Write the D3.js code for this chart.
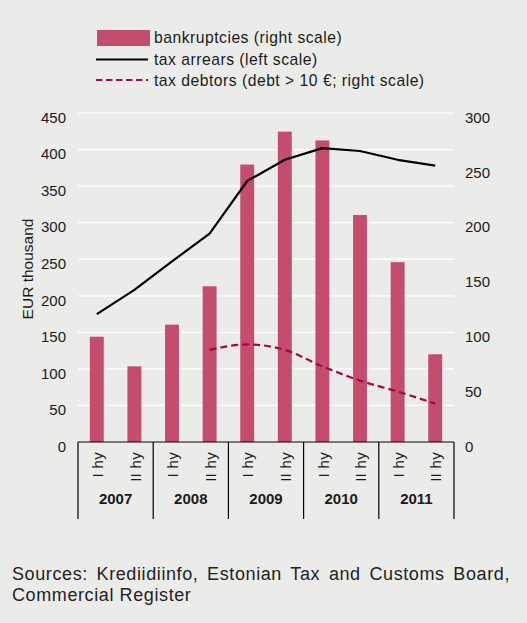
<!DOCTYPE html>
<html><head><meta charset="utf-8">
<script src="https://cdnjs.cloudflare.com/ajax/libs/d3/7.8.5/d3.min.js"></script>
<style>
html,body{margin:0;padding:0;background:#EBECEA;}
svg{display:block;font-family:"Liberation Sans",Arial,Helvetica,sans-serif;}
</style></head><body>
<svg id="c" width="527" height="623"></svg>
<script>
const years = ["2007","2008","2009","2010","2011"];
const halves = ["I hy","II hy"];
const periods = ["2007 I","2007 II","2008 I","2008 II","2009 I","2009 II","2010 I","2010 II","2011 I","2011 II"];
const bankruptcies = [96, 69, 107, 142, 253, 283, 275, 207, 164, 80];
const taxArrears = [175, 208, 247, 285, 357, 386, 402, 398, 386, 378];
const taxDebtors = [null, null, null, 84, 89, 84, 69, 56, 46, 35];
const leftTicks = [0,50,100,150,200,250,300,350,400,450];
const rightTicks = [0,50,100,150,200,250,300];
const legendLabels = ["bankruptcies (right scale)","tax arrears (left scale)","tax debtors (debt > 10 €; right scale)"];
const yLabel = "EUR thousand";
const sourceLines = ["Sources: Krediidiinfo, Estonian Tax and Customs Board,","Commercial Register"];

const svg = d3.select("#c");
const L = 78, R = 454, T = 113, B = 442;
const x = d3.scaleBand().domain(periods).range([L,R]).paddingInner(0.63).paddingOuter(0.315);
const xb = d3.scaleBand().domain(periods).range([L,R]);
const yL = d3.scaleLinear().domain([0,450]).range([B,T]);
const yR = d3.scaleLinear().domain([0,300]).range([B,T]);
const txt = "#1a1a1a";

// gridlines
svg.append("g").selectAll("line").data(leftTicks.slice(1)).join("line")
  .attr("x1",L).attr("x2",R).attr("y1",d=>yL(d)).attr("y2",d=>yL(d))
  .attr("stroke","#fff").attr("stroke-width",1.2);

// left ticks
svg.append("g").selectAll("text").data(leftTicks).join("text")
  .attr("x",66).attr("y",d=>yL(d)+4.5).attr("dy","0.35em").attr("text-anchor","end")
  .attr("font-size",15).attr("fill",txt).text(d=>d);
// right ticks
svg.append("g").selectAll("text").data(rightTicks).join("text")
  .attr("x",465).attr("y",d=>yR(d)+4.5).attr("dy","0.35em").attr("text-anchor","start")
  .attr("font-size",15).attr("fill",txt).text(d=>d);

svg.append("text").attr("transform","translate(28,269) rotate(-90)")
  .attr("text-anchor","middle").attr("dy","0.35em").attr("font-size",15.5).attr("fill",txt).text(yLabel);

// bars
svg.append("g").selectAll("rect").data(periods).join("rect")
  .attr("x",d=>x(d)).attr("width",x.bandwidth())
  .attr("y",(d,i)=>yR(bankruptcies[i])).attr("height",(d,i)=>B-yR(bankruptcies[i]))
  .attr("fill","#C44D6E");

// tax arrears
const cx = d=>xb(d)+xb.bandwidth()/2;
svg.append("path").datum(periods.map((p,i)=>[cx(p),yL(taxArrears[i])]))
  .attr("d",d3.line()).attr("fill","none").attr("stroke","#000").attr("stroke-width",2.2)
  .attr("stroke-linejoin","round");
// tax debtors
svg.append("path").datum(periods.map((p,i)=>[cx(p),taxDebtors[i]]).filter(d=>d[1]!=null).map(d=>[d[0],yR(d[1])]))
  .attr("d",d3.line().curve(d3.curveMonotoneX)).attr("fill","none").attr("stroke","#A5093F")
  .attr("stroke-width",2.2).attr("stroke-dasharray","7,4");

// x axis frame
const ax = svg.append("g").attr("stroke","#000").attr("stroke-width",1.2);
ax.append("line").attr("x1",L).attr("x2",R).attr("y1",B).attr("y2",B);
const bounds = [L, ...years.slice(1).map(y=>xb(y+" I")), R];
ax.selectAll("line.v").data(bounds).join("line").attr("class","v")
  .attr("x1",d=>d).attr("x2",d=>d).attr("y1",B).attr("y2",519);

// half-year labels
svg.append("g").selectAll("text").data(periods).join("text")
  .attr("transform",d=>`translate(${cx(d)+1},452) rotate(-90)`)
  .attr("text-anchor","end").attr("dy","0.35em").attr("font-size",15).attr("letter-spacing",0.3).attr("fill",txt)
  .text((d,i)=>halves[i%2]);
// year labels
svg.append("g").selectAll("text").data(years).join("text")
  .attr("x",(d,i)=>(bounds[i]+bounds[i+1])/2).attr("y",499).attr("dy","0.35em")
  .attr("text-anchor","middle").attr("font-size",15).attr("font-weight","bold").attr("fill",txt).text(d=>d);

// legend
const lg = svg.append("g");
lg.append("rect").attr("x",97).attr("y",30).attr("width",53).attr("height",16).attr("fill","#C44D6E");
lg.append("line").attr("x1",96).attr("x2",148).attr("y1",59.5).attr("y2",59.5).attr("stroke","#000").attr("stroke-width",2.2);
lg.append("line").attr("x1",96).attr("x2",148).attr("y1",80).attr("y2",80).attr("stroke","#A5093F").attr("stroke-width",2.2).attr("stroke-dasharray","6.5,3.5");
lg.selectAll("text").data(legendLabels).join("text")
  .attr("x",154).attr("y",(d,i)=>[37.5,59.5,81][i]).attr("dy","0.35em")
  .attr("font-size",15.7).attr("letter-spacing",0.5).attr("fill",txt).text(d=>d);

// sources (justified first line)
const s = svg.append("g");
sourceLines.forEach((t,i)=>{
  const el = s.append("text").attr("x",12).attr("y",574+i*21).attr("dy","0.35em")
    .attr("font-size",18).attr("letter-spacing",0.6).attr("fill","#222").text(t);
  if(i===0){
    const w = el.node().getComputedTextLength();
    const gaps = t.split(" ").length-1;
    if (w < 498) el.attr("word-spacing",(498-w)/gaps);
  }
});
</script></body></html>
